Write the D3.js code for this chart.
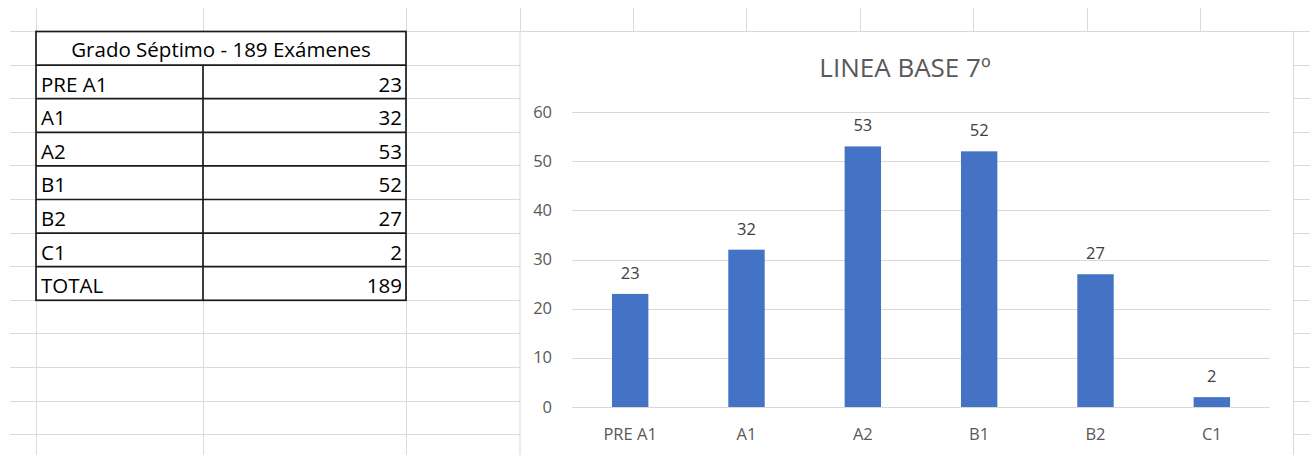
<!DOCTYPE html>
<meta charset="utf-8">
<style>
    html, body {
        margin: 0;
        padding: 0;
        background: #fff;
    }

    svg {
        display: block;
        font-family: 'Open Sans', sans-serif;
    }

    .sheetLine {
        stroke: #dadada;
        stroke-width: 1px;
        shape-rendering: crispEdges;
    }

    .cellBorder {
        fill: none;
        stroke: #1a1a1a;
        stroke-width: 1.7px;
    }

    .cellText {
        font-size: 20.5px;
        fill: #000;
    }

    .grid line {
        stroke: #d9d9d9;
        shape-rendering: crispEdges;
    }

    .bar {
        fill: #4472C4;
    }

    .tickLabel {
        font-size: 16.5px;
        fill: #595959;
    }

    .dataLabel {
        font-size: 16.5px;
        fill: #404040;
    }
</style>
<html>
<head>
    <title>Linea Base 7</title>
    <script src="https://d3js.org/d3.v7.min.js"></script>
</head>
<body>
    <div id="sheet"></div>

    <script>
        // data
        var tableTitle = "Grado Séptimo - 189 Exámenes";
        var tableLabels = ["PRE A1", "A1", "A2", "B1", "B2", "C1", "TOTAL"];
        var tableValues = [23, 32, 53, 52, 27, 2, 189];

        var chartTitle = "LINEA BASE 7º";
        var categories = ["PRE A1", "A1", "A2", "B1", "B2", "C1"];
        var counts = [23, 32, 53, 52, 27, 2];
        var yTicks = [0, 10, 20, 30, 40, 50, 60];

        // spreadsheet layout
        var W = 1310, H = 455;
        var colEdges = [36, 203, 406, 520, 633, 746, 860, 973, 1087, 1200];
        var rowTop = 31.5, rowH = 33.6;

        var svg = d3.select("#sheet").append("svg")
            .attr("width", W).attr("height", H);

        // sheet grid
        d3.range(0, 13).forEach(function (k) {
            var y = rowTop + rowH * k;
            svg.append("line").attr("class", "sheetLine")
                .attr("x1", 10).attr("x2", W).attr("y1", y).attr("y2", y);
        });
        colEdges.forEach(function (x) {
            svg.append("line").attr("class", "sheetLine")
                .attr("x1", x).attr("x2", x).attr("y1", 8).attr("y2", H);
        });

        // table
        var t = svg.append("g");
        var tx0 = colEdges[0], tx1 = colEdges[1], tx2 = colEdges[2];
        t.append("rect").attr("fill", "#fff")
            .attr("x", tx0).attr("y", rowTop)
            .attr("width", tx2 - tx0).attr("height", rowH * (tableLabels.length + 1));
        t.append("text").attr("class", "cellText")
            .attr("x", (tx0 + tx2) / 2).attr("y", rowTop + 25.5)
            .attr("text-anchor", "middle")
            .text(tableTitle);

        tableLabels.forEach(function (lab, i) {
            var top = rowTop + rowH * (i + 1);
            t.append("text").attr("class", "cellText")
                .attr("x", tx0 + 5).attr("y", top + 26.5).text(lab);
            t.append("text").attr("class", "cellText")
                .attr("x", tx2 - 4).attr("y", top + 26.5)
                .attr("text-anchor", "end").text(tableValues[i]);
        });

        t.append("rect").attr("class", "cellBorder")
            .attr("x", tx0).attr("y", rowTop)
            .attr("width", tx2 - tx0).attr("height", rowH * (tableLabels.length + 1));
        d3.range(1, tableLabels.length + 1).forEach(function (k) {
            var y = rowTop + rowH * k;
            t.append("line").attr("class", "cellBorder")
                .attr("x1", tx0).attr("x2", tx2).attr("y1", y).attr("y2", y);
        });
        t.append("line").attr("class", "cellBorder")
            .attr("x1", tx1).attr("x2", tx1)
            .attr("y1", rowTop + rowH).attr("y2", rowTop + rowH * (tableLabels.length + 1));

        // chart object
        var cx0 = 520, cy0 = 31.5, cx1 = 1293.5;
        var chart = svg.append("g");
        chart.append("rect")
            .attr("x", cx0).attr("y", cy0)
            .attr("width", cx1 - cx0).attr("height", H - cy0 + 5)
            .attr("fill", "#fff").attr("stroke", "#d9d9d9").attr("stroke-width", 1);

        chart.append("text")
            .attr("x", 905).attr("y", 77)
            .attr("text-anchor", "middle")
            .style("font-size", "26px").style("fill", "#595959")
            .text(chartTitle);

        var x = d3.scaleBand().domain(categories)
            .range([572, 1270]).paddingInner(0.687).paddingOuter(0.3435);
        var y = d3.scaleLinear().domain([0, 60]).range([407, 112]);

        // gridlines
        chart.append("g").attr("class", "grid")
            .selectAll("line").data(yTicks).join("line")
            .attr("x1", 572).attr("x2", 1270)
            .attr("y1", function (d) { return Math.round(y(d)) + 0.5; })
            .attr("y2", function (d) { return Math.round(y(d)) + 0.5; });

        // y axis labels
        chart.append("g").selectAll("text").data(yTicks).join("text")
            .attr("class", "tickLabel")
            .attr("x", 552).attr("y", function (d) { return y(d) + 5.5; })
            .attr("text-anchor", "end")
            .text(function (d) { return d; });

        // bars
        chart.append("g").selectAll("rect").data(counts).join("rect")
            .attr("class", "bar")
            .attr("x", function (d, i) { return x(categories[i]); })
            .attr("width", x.bandwidth())
            .attr("y", function (d) { return y(d); })
            .attr("height", function (d) { return y(0) - y(d); });

        // data labels
        chart.append("g").selectAll("text").data(counts).join("text")
            .attr("class", "dataLabel")
            .attr("x", function (d, i) { return x(categories[i]) + x.bandwidth() / 2; })
            .attr("y", function (d) { return y(d) - 15; })
            .attr("text-anchor", "middle")
            .text(function (d) { return d; });

        // category labels
        chart.append("g").selectAll("text").data(categories).join("text")
            .attr("class", "tickLabel")
            .attr("x", function (d) { return x(d) + x.bandwidth() / 2; })
            .attr("y", 440)
            .attr("text-anchor", "middle")
            .text(function (d) { return d; });
    </script>
</body>
</html>
